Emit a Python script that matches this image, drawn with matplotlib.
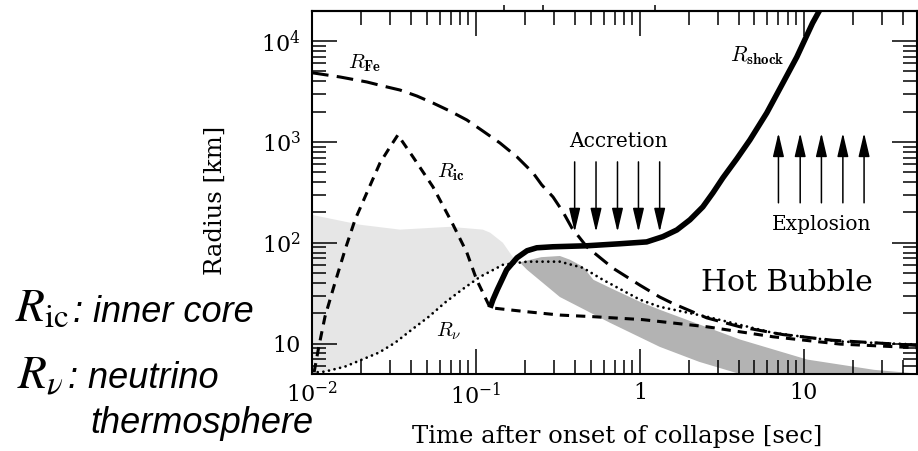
import numpy as np
import matplotlib
matplotlib.use("Agg")
import matplotlib.pyplot as plt
from matplotlib.patches import FancyArrowPatch
from matplotlib.ticker import FixedLocator, FixedFormatter, LogLocator, NullFormatter, NullLocator

# ---------------- data ----------------
fe_t = [0.01, 0.0148, 0.0216, 0.0271, 0.0344, 0.0437, 0.0547, 0.0693, 0.088, 0.110,
        0.14, 0.178, 0.223, 0.252, 0.295, 0.339, 0.385, 0.475, 0.685, 0.83,
        1.0, 1.32, 1.59, 2.56, 4.07, 7.45, 15, 26.8, 49]
fe_r = [4850, 4406, 3930, 3583, 3270, 2850, 2430, 2026, 1650, 1285,
        977, 710, 493, 375, 285, 203, 140, 91, 56, 46,
        38, 29, 25, 18, 14.7, 12.3, 10.8, 10.2, 9.6]

ic_t = [0.0103, 0.011, 0.012, 0.0138, 0.0159, 0.0183, 0.0216, 0.026, 0.0299, 0.0334,
        0.0413, 0.0547, 0.0715, 0.088, 0.101, 0.122, 0.205, 0.325, 0.52, 1.04,
        2.56, 6.47, 16.6, 49]
ic_r = [5.2, 9.3, 18.5, 40, 85, 169, 313, 620, 890, 1172,
        710, 358, 158, 80, 43, 22.7, 20.7, 19.2, 18.5, 17.3,
        14.7, 11.7, 9.9, 9.1]

nu_t = [0.01, 0.012, 0.0159, 0.0202, 0.0256, 0.0321, 0.0407, 0.0516, 0.0647, 0.0822,
        0.106, 0.146, 0.205, 0.325, 0.449, 0.594, 1.0, 1.32, 2.56, 6.47, 16.6, 49]
nu_r = [5.16, 5.28, 5.92, 6.95, 8.15, 10.2, 13.8, 18.5, 25.5, 34.3,
        46, 60.5, 65, 65, 56.5, 43, 27.3, 23.2, 18.5, 12.8, 10.5, 9.8]

shock_t = [0.122, 0.127, 0.135, 0.154, 0.178, 0.205, 0.235, 0.295, 0.476, 0.755,
           1.10, 1.38, 1.68, 2.02, 2.42, 2.79, 3.21, 3.90, 4.69, 5.94,
           7.45, 9.06, 11.3, 12.5]
shock_r = [22.7, 27.3, 34.3, 54, 71, 83.4, 89.2, 91.3, 93.4, 97.8,
           102, 115, 134, 169, 227, 313, 441, 680, 1047, 1938,
           3838, 6950, 15070, 20280]

# light grey band (upper edge / lower edge)
light_up_t = [0.01, 0.0196, 0.0344, 0.0693, 0.11, 0.122, 0.146, 0.167, 0.185]
light_up_r = [189, 151, 135, 144, 135, 126, 100, 73, 64]
light_lo_t = [0.01, 0.012, 0.0159, 0.0202, 0.0256, 0.0321, 0.0407, 0.0516, 0.0647,
              0.0822, 0.106, 0.146, 0.185]
light_lo_r = [5.16, 5.28, 5.92, 6.95, 8.15, 10.2, 13.8, 18.5, 25.5,
              34.3, 46, 60.5, 64]

# dark grey band (upper edge / lower edge)
dark_up_t = [0.185, 0.25, 0.325, 0.374, 0.449, 0.52, 0.657, 1.0, 1.32, 4.07, 10.5, 26.8, 49]
dark_up_r = [64, 72, 74, 68, 58, 43, 35.8, 26, 21.7, 11, 6.95, 5.5, 5.05]
dark_lo_t = [0.185, 0.205, 0.325, 0.657, 1.32, 2.3, 4.07, 49]
dark_lo_r = [64, 54, 29, 16.1, 9.3, 6.6, 5.0, 4.5]

accretion_t = [0.4, 0.54, 0.73, 0.98, 1.32]
accretion_r = [634, 128]          # tail, head
explosion_t = [7.0, 9.5, 12.8, 17.3, 23.3]
explosion_r = [249, 1228]         # tail, head

xtick_vals = [0.01, 0.1, 1, 10]
xtick_labels = ['$10^{-2}$', '$10^{-1}$', '1', '10']
ytick_vals = [10, 100, 1000, 10000]
ytick_labels = ['10', '$10^{2}$', '$10^{3}$', '$10^{4}$']
top_stub_ticks = [0.148, 0.256, 1.23]

# ---------------- figure ----------------
plt.rcParams['font.family'] = ['DejaVu Serif']
plt.rcParams['mathtext.fontset'] = 'dejavuserif'
plt.rcParams['lines.scale_dashes'] = False

W, H = 918, 451
fig = plt.figure(figsize=(W / 100, H / 100), dpi=100)
L, R, B, T = 312, 917, 374, 10.7
ax = fig.add_axes([L / W, 1 - B / H, (R - L) / W, (B - T) / H])
ax.set_xscale('log')
ax.set_yscale('log')
ax.set_xlim(0.01, 49)
ax.set_ylim(5, 2e4)

# shading
ax.fill(np.concatenate([light_up_t, light_lo_t[::-1]]),
        np.concatenate([light_up_r, light_lo_r[::-1]]),
        color='#e6e6e6', lw=0, zorder=1)
ax.fill(np.concatenate([dark_up_t, dark_lo_t[::-1]]),
        np.concatenate([dark_up_r, dark_lo_r[::-1]]),
        color='#b3b3b3', lw=0, zorder=1)

# curves
ax.plot(fe_t, fe_r, color='k', lw=2.2, linestyle=(0, (12, 6)), zorder=3)
ax.plot(ic_t, ic_r, color='k', lw=2.2, linestyle=(0, (6.7, 5)), zorder=3)
ax.plot(nu_t, nu_r, color='k', lw=2.0, linestyle=(0, (0.01, 4.1)),
        dash_capstyle='round', zorder=3)
ax.plot(shock_t, shock_r, color='k', lw=4.0, solid_capstyle='butt',
        solid_joinstyle='round', zorder=4)

# arrows
for t in accretion_t:
    ax.add_patch(FancyArrowPatch((t, accretion_r[0]), (t, accretion_r[1]),
                                 arrowstyle='-|>,head_length=1.45,head_width=0.34',
                                 mutation_scale=10, lw=1.1, color='k',
                                 shrinkA=0, shrinkB=0, zorder=5))
for t in explosion_t:
    ax.add_patch(FancyArrowPatch((t, explosion_r[0]), (t, explosion_r[1]),
                                 arrowstyle='-|>,head_length=1.45,head_width=0.34',
                                 mutation_scale=10, lw=1.1, color='k',
                                 shrinkA=0, shrinkB=0, zorder=5))

# in-plot text
ax.text(0.745, 891, 'Accretion', fontsize=14.5, ha='center', va='baseline')
ax.text(12.9, 134.6, 'Explosion', fontsize=14.5, ha='center', va='baseline')
ax.text(7.87, 33, 'Hot Bubble', fontsize=21.5, ha='center', va='baseline')
ax.text(0.0166, 5410, r'$R_{\mathbf{Fe}}$', fontsize=15, ha='left', va='baseline',
        math_fontfamily='cm')
ax.text(0.0578, 441, r'$R_{\mathbf{ic}}$', fontsize=15, ha='left', va='baseline',
        math_fontfamily='cm')
ax.text(3.54, 6240, r'$R_{\mathbf{shock}}$', fontsize=15.5, ha='left', va='baseline',
        math_fontfamily='cm')
ax.text(0.057, 11.8, r'$R_{\nu}$', fontsize=15, ha='left', va='baseline',
        math_fontfamily='cm')

# ticks
ax.xaxis.set_major_locator(FixedLocator(xtick_vals))
ax.xaxis.set_major_formatter(FixedFormatter(xtick_labels))
ax.yaxis.set_major_locator(FixedLocator(ytick_vals))
ax.yaxis.set_major_formatter(FixedFormatter(ytick_labels))
for axis in (ax.xaxis, ax.yaxis):
    axis.set_minor_locator(LogLocator(base=10, subs=np.arange(2, 10), numticks=30))
    axis.set_minor_formatter(NullFormatter())
ax.tick_params(which='major', direction='in', length=18, width=1.1,
               top=True, right=True, labelsize=16)
ax.tick_params(which='minor', direction='in', length=10, width=1.1,
               top=True, right=True)
ax.tick_params(axis='x', which='major', pad=6)
ax.tick_params(axis='y', which='major', pad=8)
for s in ax.spines.values():
    s.set_linewidth(1.5)

sec = ax.secondary_xaxis('top')
sec.set_xticks(top_stub_ticks)
sec.xaxis.set_minor_locator(NullLocator())
sec.tick_params(direction='out', length=4.5, width=1.1, labeltop=False)
sec.spines['top'].set_linewidth(1.5)

ax.set_xlabel('Time after onset of collapse [sec]', fontsize=17.5)
ax.xaxis.set_label_coords(0.504, -0.14)
ax.xaxis.label.set_va('top')
ax.set_ylabel('Radius [km]', fontsize=17.5)
ax.yaxis.set_label_coords(-0.1405, 0.479)

# left-side legend text
sans = ['Liberation Sans', 'DejaVu Sans']
fig.text(15 / W, 1 - 321.7 / H, r'$R_{\mathrm{ic}}$', fontsize=34, ha='left',
         va='baseline', math_fontfamily='stix')
fig.text(73 / W, 1 - 321.7 / H, ': inner core', fontsize=26, ha='left',
         va='baseline', family=sans, style='italic')
fig.text(17 / W, 1 - 388 / H, r'$R_{\nu}$', fontsize=34, ha='left',
         va='baseline', math_fontfamily='stix')
fig.text(68 / W, 1 - 388 / H, ': neutrino', fontsize=26, ha='left',
         va='baseline', family=sans, style='italic')
fig.text(90 / W, 1 - 433 / H, 'thermosphere', fontsize=26, ha='left',
         va='baseline', family=sans, style='italic')

fig.savefig('out.png', dpi=100)
